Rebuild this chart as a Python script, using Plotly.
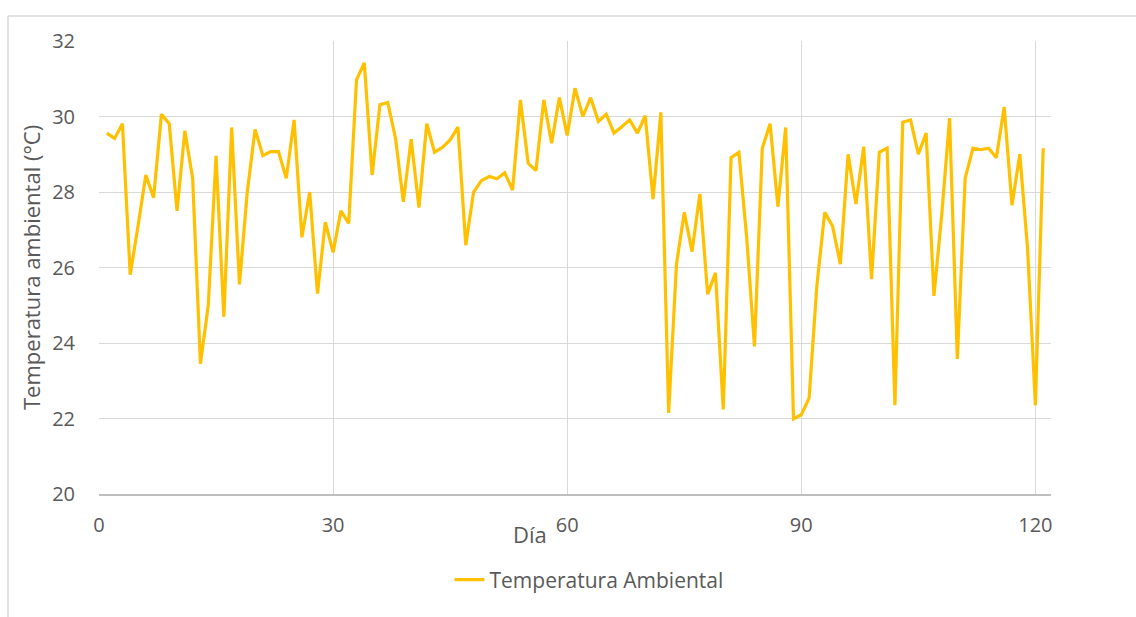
import plotly.graph_objects as go

dias = [1, 2, 3, 4, 5, 6, 7, 8, 9, 10, 11, 12, 13, 14, 15, 16, 17, 18, 19, 20,
        21, 22, 23, 24, 25, 26, 27, 28, 29, 30, 31, 32, 33, 34, 35, 36, 37, 38, 39, 40,
        41, 42, 43, 44, 45, 46, 47, 48, 49, 50, 51, 52, 53, 54, 55, 56, 57, 58, 59, 60,
        61, 62, 63, 64, 65, 66, 67, 68, 69, 70, 71, 72, 73, 74, 75, 76, 77, 78, 79, 80,
        81, 82, 83, 84, 85, 86, 87, 88, 89, 90, 91, 92, 93, 94, 95, 96, 97, 98, 99, 100,
        101, 102, 103, 104, 105, 106, 107, 108, 109, 110, 111, 112, 113, 114, 115, 116,
        117, 118, 119, 120, 121]

temperatura = [29.56, 29.42, 29.81, 25.81, 27.10, 28.45, 27.85, 30.06, 29.81, 27.50,
               29.62, 28.36, 23.45, 25.00, 28.96, 24.69, 29.71, 25.55, 28.00, 29.66,
               28.96, 29.07, 29.07, 28.36, 29.91, 26.80, 28.00, 25.31, 27.20, 26.40,
               27.50, 27.17, 30.97, 31.42, 28.45, 30.31, 30.37, 29.42, 27.74, 29.40,
               27.59, 29.81, 29.05, 29.18, 29.38, 29.72, 26.59, 28.00, 28.30, 28.41,
               28.35, 28.51, 28.05, 30.44, 28.76, 28.57, 30.44, 29.29, 30.50, 29.50,
               30.75, 30.00, 30.50, 29.87, 30.06, 29.56, 29.73, 29.91, 29.56, 30.02,
               27.81, 30.11, 22.15, 26.08, 27.46, 26.42, 27.95, 25.29, 25.86, 22.24,
               28.91, 29.05, 26.80, 23.91, 29.16, 29.81, 27.61, 29.71, 21.99, 22.10,
               22.54, 25.53, 27.46, 27.10, 26.09, 29.00, 27.68, 29.20, 25.69, 29.05,
               29.16, 22.35, 29.85, 29.91, 29.00, 29.56, 25.25, 27.40, 29.96, 23.58,
               28.36, 29.16, 29.12, 29.16, 28.91, 30.25, 27.65, 29.00, 26.50, 22.35,
               29.16]

x_ticks = [0, 30, 60, 90, 120]
y_ticks = [20, 22, 24, 26, 28, 30, 32]

serie = "Temperatura Ambiental"
titulo_x = "Día"
titulo_y = "Temperatura ambiental (°C)"

FONT = "Open Sans, Liberation Sans, sans-serif"
TXT = "#595959"
GRID = "#d9d9d9"
TICK_SIZE = 20
LEG_SIZE = 21
TITLE_SIZE = 22

fig = go.Figure()
fig.add_trace(go.Scatter(
    x=dias, y=temperatura, mode="lines", name=serie,
    line=dict(color="#FFC000", width=3.2),
))

W, H = 1136, 617
L, R, T, B = 99, 1136 - 1051, 41, 617 - 494
pw, ph = W - L - R, H - T - B

def px(xp):
    return (xp - L) / pw

def py(yp):
    return (H - B - yp) / ph

fig.update_layout(
    width=W, height=H,
    margin=dict(l=L, r=R, t=T, b=B, pad=0),
    paper_bgcolor="white", plot_bgcolor="white",
    font=dict(family=FONT, size=TICK_SIZE, color=TXT),
    showlegend=True,
    legend=dict(orientation="h", x=px(589), xanchor="center", y=py(580), yanchor="middle",
                font=dict(size=LEG_SIZE, color=TXT), bgcolor="rgba(0,0,0,0)"),
    xaxis=dict(range=[0, 122], tickvals=x_ticks, showgrid=True, gridcolor=GRID, gridwidth=1,
               zeroline=False, showline=True, linecolor="#bfbfbf", linewidth=1.5,
               ticks="", ticklabelstandoff=12, tickfont=dict(size=TICK_SIZE, color=TXT)),
    yaxis=dict(range=[20, 32], tickvals=y_ticks, showgrid=True, gridcolor=GRID, gridwidth=1,
               zeroline=False, showline=False,
               ticks="", ticklabelstandoff=23, tickfont=dict(size=TICK_SIZE, color=TXT)),
    shapes=[
        dict(type="line", xref="paper", yref="paper", x0=px(8), x1=px(1136), y0=py(16), y1=py(16),
             line=dict(color=GRID, width=1.5)),
        dict(type="line", xref="paper", yref="paper", x0=px(8), x1=px(8), y0=py(16), y1=py(617),
             line=dict(color=GRID, width=1.5)),
    ],
    annotations=[
        dict(text=titulo_x, xref="paper", yref="paper", x=px(530), y=py(534),
             xanchor="center", yanchor="middle", showarrow=False,
             font=dict(size=TITLE_SIZE, color=TXT)),
        dict(text=titulo_y, xref="paper", yref="paper", x=px(31), y=py(268),
             xanchor="center", yanchor="middle", showarrow=False, textangle=-90,
             font=dict(size=TITLE_SIZE, color=TXT)),
    ],
)

fig.write_html("out.html")
